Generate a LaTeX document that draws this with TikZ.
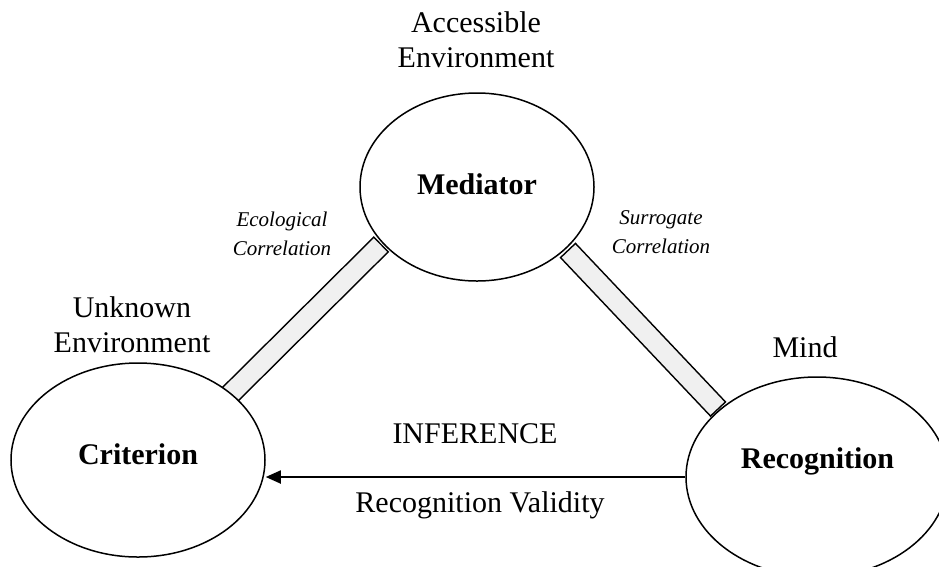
\documentclass[tikz,border=0pt]{standalone}
\usepackage{fontspec}
\setmainfont{Liberation Serif}
\usetikzlibrary{arrows.meta,calc,shapes.geometric}
\definecolor{barfill}{HTML}{F0F0F0}
\begin{document}
\begin{tikzpicture}[x=1pt,y=-1pt,
  oval/.style={ellipse,draw,line width=1.5pt,fill=white,inner sep=0pt},
  heading/.style={font=\fontsize{30}{35}\selectfont,align=center,inner sep=0pt},
  caption/.style={font=\fontsize{30}{35}\selectfont,anchor=base,inner sep=0pt},
  title/.style={font=\fontsize{30}{35}\selectfont\bfseries,anchor=base,inner sep=0pt},
  corr/.style={font=\fontsize{21}{29}\selectfont\itshape,align=center,inner sep=0pt},
  bar/.style={draw,line width=1.4pt,fill=barfill,line join=miter}]
\useasboundingbox (0,0) rectangle (939,566);
\clip (0,0) rectangle (939,566);

% end points of the two correlation bars
\coordinate (ecoLow) at (229.5,395);
\coordinate (ecoHigh) at (381,244.5);
\coordinate (surHigh) at (568,250.5);
\coordinate (surLow) at (718,409);

% correlation bars, drawn below the ovals
\draw[bar] ($(ecoLow)!10.3pt!90:(ecoHigh)$) -- ($(ecoHigh)!10.3pt!-90:(ecoLow)$)
  -- ($(ecoHigh)!10.3pt!90:(ecoLow)$) -- ($(ecoLow)!10.3pt!-90:(ecoHigh)$) -- cycle;
\draw[bar] ($(surHigh)!10.3pt!90:(surLow)$) -- ($(surLow)!10.3pt!-90:(surHigh)$)
  -- ($(surLow)!10.3pt!90:(surHigh)$) -- ($(surHigh)!10.3pt!-90:(surLow)$) -- cycle;

% the three ovals
\node[oval,minimum width=234pt,minimum height=188pt] (med) at (477,187) {};
\node[oval,minimum width=254pt,minimum height=194pt] (cri) at (138,460) {};
\node[oval,minimum width=262pt,minimum height=200pt] (rec) at (817,477) {};

\node[title] (medT) at (477,194) {Mediator};
\node[title] (criT) at (138,464) {Criterion};
\node[title] (recT) at (817.5,468) {Recognition};

% inference arrow
\draw[line width=1.8pt,-{Triangle[length=15pt,width=13pt]}] (rec.west) -- (rec.west -| cri.east);

% labels
\node[heading] (accL) at (476,40) {Accessible\\Environment};
\node[heading] (unkL) at (132,325) {Unknown\\Environment};
\node[caption] (mindL) at (805,357) {Mind};
\node[caption] (infL) at (475,443) {INFERENCE};
\node[caption] (valL) at (480,512) {Recognition Validity};
\node[corr] (ecoL) at (282,234) {Ecological\\Correlation};
\node[corr] (surL) at (661,232) {Surrogate\\Correlation};
\end{tikzpicture}
\end{document}
